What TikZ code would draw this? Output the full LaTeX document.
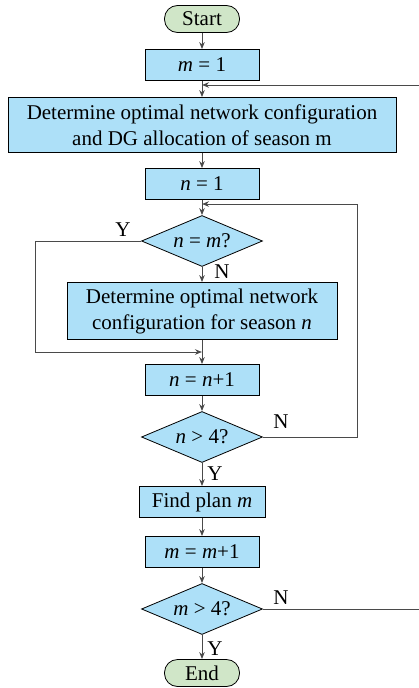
\documentclass[tikz,border=0pt]{standalone}
\usepackage{fontspec}
\setmainfont{Liberation Serif}
\usepackage{tikz}
\usetikzlibrary{arrows.meta,shapes.geometric,calc}
\usepackage{xcolor}
\definecolor{BoxBlue}{HTML}{ADE0F8}
\definecolor{TermGreen}{HTML}{D0E6C8}
\definecolor{LineGray}{HTML}{4A4A4A}
\newcommand{\va}[1]{\textit{#1}}

\tikzset{
  term/.style={draw,fill=TermGreen,rounded corners=13pt,minimum width=75pt,minimum height=27pt,inner sep=0pt,line width=0.8pt},
  proc/.style={draw,fill=BoxBlue,minimum width=114pt,minimum height=31pt,inner sep=0pt,line width=0.8pt,align=center},
  decide/.style={draw,fill=BoxBlue,diamond,shape aspect=2.37,minimum width=121pt,minimum height=51pt,inner sep=0pt,line width=0.8pt},
  flow/.style={draw=LineGray,line width=1pt,-{Stealth[length=7pt,width=5.5pt]}},
  link/.style={draw=LineGray,line width=1pt},
  lbl/.style={inner sep=0pt}
}

\begin{document}
\begin{tikzpicture}[x=1pt,y=-1pt,font=\fontsize{21}{26}\selectfont]
   \useasboundingbox (0,0) rectangle (419,688);

   \node[term] (start) at (202,19) {Start};
   \node[proc] (m1) at (202,65) {\va{m} = 1};
   \node[proc,minimum width=388pt,minimum height=55pt] (det1) at (202,125)
    {Determine optimal network configuration\\and DG allocation of season m};
   \node[proc] (n1) at (202,184) {\va{n} = 1};
   \node[decide] (dnm) at (202,241) {\va{n} = \va{m}?};
   \node[proc,minimum width=270pt,minimum height=57pt] (det2) at (202,311)
    {Determine optimal network\\configuration for season \va{n}};
   \node[proc] (nn) at (202,380) {\va{n} = \va{n}+1};
   \node[decide] (dn4) at (202,437) {\va{n} > 4?};
   \node[proc,minimum width=126pt] (plan) at (202,502) {Find plan \va{m}};
   \node[proc] (mm) at (202,552) {\va{m} = \va{m}+1};
   \node[decide] (dm4) at (202,609) {\va{m} > 4?};
   \node[term] (end) at (202,673) {End};

   \coordinate (jm) at (202,85);
   \coordinate (jn) at (202,204);
   \coordinate (jy) at (202,352);

   \draw[flow] (start) -- (m1);
   \draw[flow] (m1) -- (det1);
   \draw[flow] (det1) -- (n1);
   \draw[flow] (n1) -- (dnm);
   \draw[flow] (dnm) -- (det2);
   \draw[flow] (det2) -- (nn);
   \draw[flow] (nn) -- (dn4);
   \draw[flow] (dn4) -- (plan);
   \draw[flow] (plan) -- (mm);
   \draw[flow] (mm) -- (dm4);
   \draw[flow] (dm4) -- (end);

   % loops
   \draw[link] (dnm.west) -- (35,241) -- (35,352);
   \draw[flow] (35,352) -- (jy);
   \draw[link] (dn4.east) -- (357,437) -- (357,204);
   \draw[flow] (357,204) -- (jn);
   \draw[link] (dm4.east) -- (425,609) -- (425,85);
   \draw[flow] (425,85) -- (jm);

   \node[lbl] (ynm) at (123,230) {Y};
   \node[lbl] (nnm) at (222,272) {N};
   \node[lbl] (nn4) at (281,422) {N};
   \node[lbl] (yn4) at (215,474) {Y};
   \node[lbl] (nm4) at (281,598) {N};
   \node[lbl] (ym4) at (215,649) {Y};
\end{tikzpicture}
\end{document}
